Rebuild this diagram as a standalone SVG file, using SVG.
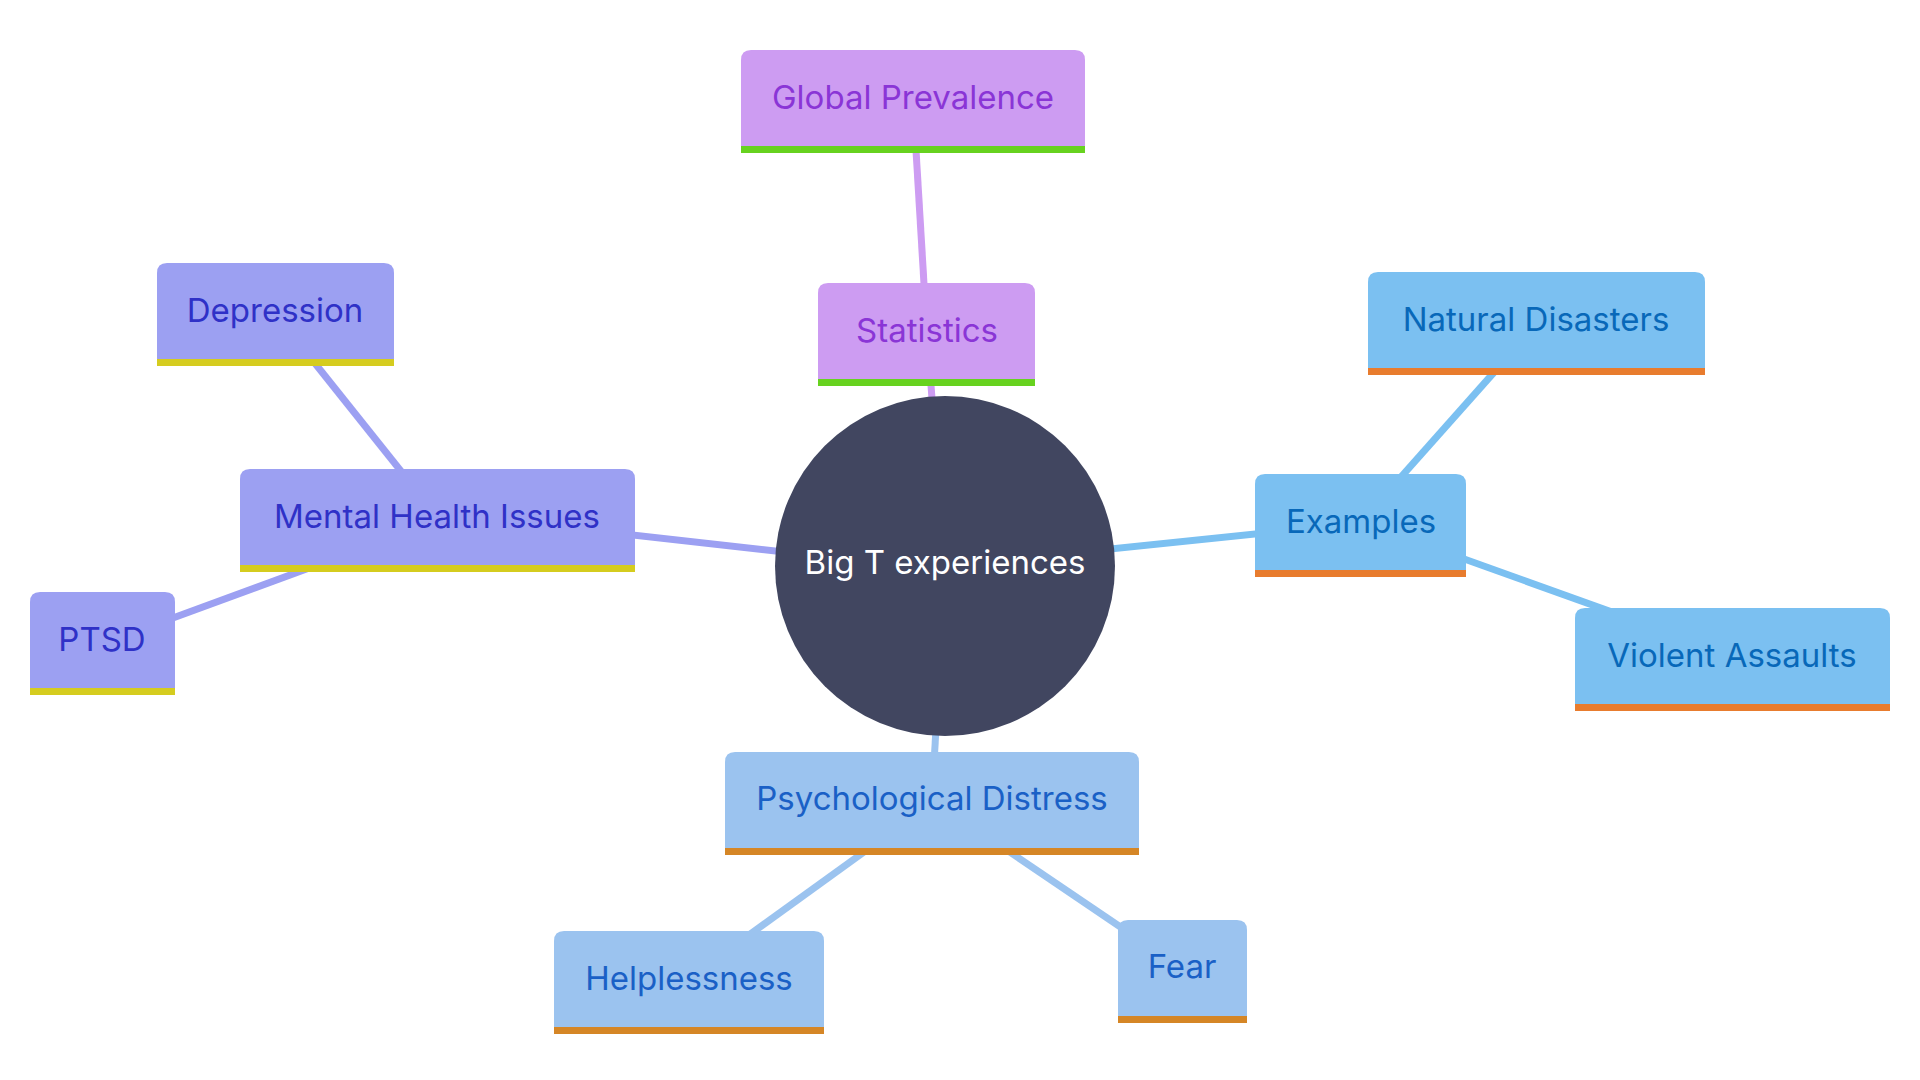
<svg xmlns="http://www.w3.org/2000/svg" width="1920" height="1080" viewBox="0 0 1920 1080">
<style>
text{font-family:Inter,"Liberation Sans",sans-serif;font-size:33px;text-anchor:middle}
.edge{fill:none;stroke-width:7;stroke-linecap:butt}
.e-pur{stroke:#cd9cf2}.e-ind{stroke:#9ca0f2}.e-sky{stroke:#7bc0f1}.e-lb{stroke:#9bc3ef}
.pur .box{fill:#cd9cf2}.pur .bar{fill:#67d21f}.pur text{fill:#8a35d6}
.ind .box{fill:#9ca0f2}.ind .bar{fill:#d5cc1f}.ind text{fill:#2f31c7}
.sky .box{fill:#7bc0f1}.sky .bar{fill:#e87c2e}.sky text{fill:#0868b9}
.lb .box{fill:#9bc3ef}.lb .bar{fill:#d58626}.lb text{fill:#1a60c6}
</style>
<rect width="1920" height="1080" fill="#ffffff"/>
<g id="connectors">
<line class="edge e-pur" x1="945" y1="566" x2="927" y2="334"/>
<line class="edge e-pur" x1="927" y1="334" x2="913" y2="100"/>
<line class="edge e-ind" x1="945" y1="570" x2="437" y2="513"/>
<line class="edge e-ind" x1="440" y1="520" x2="274" y2="312"/>
<line class="edge e-ind" x1="437" y1="521" x2="102" y2="644"/>
<line class="edge e-sky" x1="945" y1="566" x2="1361" y2="523"/>
<line class="edge e-sky" x1="1361" y1="522" x2="1537" y2="324"/>
<line class="edge e-sky" x1="1361" y1="522" x2="1732" y2="655"/>
<line class="edge e-lb" x1="945" y1="566" x2="932" y2="800"/>
<line class="edge e-lb" x1="936" y1="800" x2="688" y2="979"/>
<line class="edge e-lb" x1="933" y1="800" x2="1181" y2="968"/>
</g>
<g id="node-root">
<circle cx="945" cy="566" r="170" fill="#414660"/>
<text x="945" y="574" fill="#ffffff">Big T experiences</text>
</g>
<g id="node-statistics" class="pur">
<path class="box" d="M818 386V293Q818 283 828 283H1025Q1035 283 1035 293V386Z"/>
<rect class="bar" x="818" y="379" width="217" height="7"/>
<text x="927" y="342">Statistics</text>
</g>
<g id="node-global-prevalence" class="pur">
<path class="box" d="M741 153V60Q741 50 751 50H1075Q1085 50 1085 60V153Z"/>
<rect class="bar" x="741" y="146" width="344" height="7"/>
<text x="913" y="109">Global Prevalence</text>
</g>
<g id="node-mental-health" class="ind">
<path class="box" d="M240 572V479Q240 469 250 469H625Q635 469 635 479V572Z"/>
<rect class="bar" x="240" y="565" width="395" height="7"/>
<text x="437" y="528">Mental Health Issues</text>
</g>
<g id="node-depression" class="ind">
<path class="box" d="M157 366V273Q157 263 167 263H384Q394 263 394 273V366Z"/>
<rect class="bar" x="157" y="359" width="237" height="7"/>
<text x="275" y="322">Depression</text>
</g>
<g id="node-ptsd" class="ind">
<path class="box" d="M30 695V602Q30 592 40 592H165Q175 592 175 602V695Z"/>
<rect class="bar" x="30" y="688" width="145" height="7"/>
<text x="102" y="651">PTSD</text>
</g>
<g id="node-examples" class="sky">
<path class="box" d="M1255 577V484Q1255 474 1265 474H1456Q1466 474 1466 484V577Z"/>
<rect class="bar" x="1255" y="570" width="211" height="7"/>
<text x="1361" y="533">Examples</text>
</g>
<g id="node-natural-disasters" class="sky">
<path class="box" d="M1368 375V282Q1368 272 1378 272H1695Q1705 272 1705 282V375Z"/>
<rect class="bar" x="1368" y="368" width="337" height="7"/>
<text x="1536" y="331">Natural Disasters</text>
</g>
<g id="node-violent-assaults" class="sky">
<path class="box" d="M1575 711V618Q1575 608 1585 608H1880Q1890 608 1890 618V711Z"/>
<rect class="bar" x="1575" y="704" width="315" height="7"/>
<text x="1732" y="667">Violent Assaults</text>
</g>
<g id="node-psychological-distress" class="lb">
<path class="box" d="M725 855V762Q725 752 735 752H1129Q1139 752 1139 762V855Z"/>
<rect class="bar" x="725" y="848" width="414" height="7"/>
<text x="932" y="810">Psychological Distress</text>
</g>
<g id="node-helplessness" class="lb">
<path class="box" d="M554 1034V941Q554 931 564 931H814Q824 931 824 941V1034Z"/>
<rect class="bar" x="554" y="1027" width="270" height="7"/>
<text x="689" y="990">Helplessness</text>
</g>
<g id="node-fear" class="lb">
<path class="box" d="M1118 1023V930Q1118 920 1128 920H1237Q1247 920 1247 930V1023Z"/>
<rect class="bar" x="1118" y="1016" width="129" height="7"/>
<text x="1182" y="978">Fear</text>
</g>
</svg>
